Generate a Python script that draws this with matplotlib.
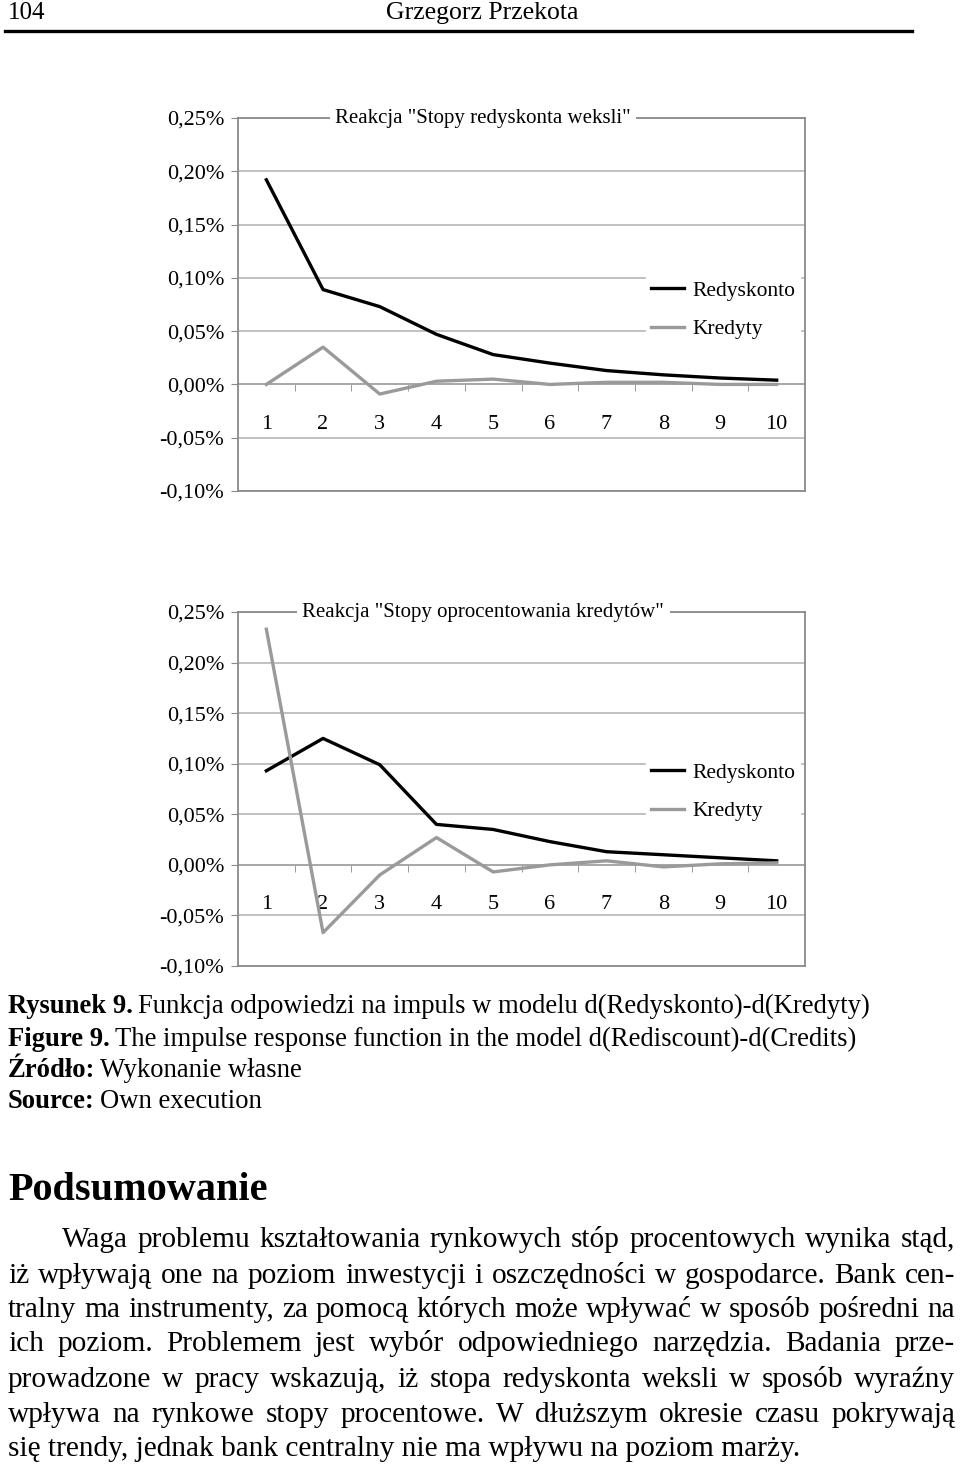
import matplotlib
matplotlib.use('Agg')
import matplotlib.pyplot as plt
from matplotlib.ticker import FuncFormatter
import numpy as np

plt.rcParams['font.family'] = ['Liberation Serif', 'DejaVu Serif']

# dane (w %)
okresy = np.arange(1, 11)

redyskonto_1 = [0.192, 0.089, 0.073, 0.047, 0.028, 0.020, 0.013, 0.009, 0.006, 0.004]
kredyty_1 = [0.000, 0.035, -0.009, 0.003, 0.005, 0.000, 0.002, 0.002, 0.000, 0.000]

redyskonto_2 = [0.093, 0.125, 0.099, 0.040, 0.035, 0.023, 0.013, 0.010, 0.007, 0.004]
kredyty_2 = [0.233, -0.067, -0.010, 0.027, -0.007, 0.000, 0.004, -0.002, 0.001, 0.002]

tytuly = ['Reakcja "Stopy redyskonta weksli"',
          'Reakcja "Stopy oprocentowania kredytów"']
etykiety = ['Redyskonto', 'Kredyty']
y_ticks = [-0.10, -0.05, 0.00, 0.05, 0.10, 0.15, 0.20, 0.25]

W, H = 960, 1468
fig = plt.figure(figsize=(W / 100, H / 100), dpi=100)


def fx(px):
    return px / W


def fy(py):
    return 1 - py / H


def proc(v, pos):
    if abs(v) < 1e-9:
        v = 0.0
    return f'{v:.2f}%'.replace('.', ',')


def wykres(top_px, bot_px, red, kre, tytul, leg_y):
    ax = fig.add_axes([fx(238), fy(bot_px), fx(805) - fx(238), fy(top_px) - fy(bot_px)])
    ax.plot(okresy, red, color='black', lw=2.4, label=etykiety[0], zorder=3)
    ax.plot(okresy, kre, color='#9a9a9a', lw=2.4, label=etykiety[1], zorder=3)
    ax.set_xlim(0.5, 10.5)
    ax.set_ylim(-0.10, 0.25)
    ax.set_yticks(y_ticks)
    ax.yaxis.set_major_formatter(FuncFormatter(proc))
    ax.set_xticks([])
    ax.yaxis.grid(True, color='#b0b0b0', lw=1.1)
    ax.set_axisbelow(True)
    for s in ax.spines.values():
        s.set_color('#8a8a8a')
        s.set_linewidth(1.3)
        s.set_zorder(6)
    ax.tick_params(axis='y', direction='out', length=5, color='#8a8a8a',
                   labelsize=16, pad=5)

    # os kategorii w punkcie zero
    sec = ax.secondary_xaxis(0.10 / 0.35)
    sec.spines['bottom'].set_color('#8a8a8a')
    sec.spines['bottom'].set_linewidth(1.3)
    sec.set_xticks(okresy)
    sec.set_xticks(okresy[:-1] + 0.5, minor=True)
    sec.tick_params(which='major', length=0, labelsize=16, pad=22)
    sec.tick_params(which='minor', direction='out', length=5, color='#8a8a8a')

    ax.legend(loc='center left', bbox_to_anchor=(0.70, leg_y), frameon=True,
              facecolor='white', edgecolor='white', framealpha=1, fancybox=False,
              handlelength=1.55, handletextpad=0.35, borderpad=0.25,
              labelspacing=0.85, fontsize=15.5)

    fig.text(fx(483), fy(top_px), tytul, ha='center', va='center', fontsize=15,
             bbox=dict(facecolor='white', edgecolor='none', pad=4))
    return ax


wykres(118, 491, redyskonto_1, kredyty_1, tytuly[0], 0.485)
wykres(612, 966, redyskonto_2, kredyty_2, tytuly[1], 0.492)

# naglowek strony
fig.text(fx(8), fy(13), '104', ha='left', va='center', fontsize=18)
fig.text(fx(482), fy(13), 'Grzegorz Przekota', ha='center', va='center', fontsize=18.5)
fig.add_artist(plt.Line2D([fx(5), fx(912)], [fy(31), fy(31)], color='black', lw=2.4))

renderer = fig.canvas.get_renderer()


def szer(t):
    return t.get_window_extent(renderer).width


# podpis rysunku
podpis = [('Rysunek 9.', 'Funkcja odpowiedzi na impuls w modelu d(Redyskonto)-d(Kredyty)', 1007),
          ('Figure 9.', 'The impulse response function in the model d(Rediscount)-d(Credits)', 1040),
          ('Źródło:', 'Wykonanie własne', 1071),
          ('Source:', 'Own execution', 1102)]
for b, n, y in podpis:
    t = fig.text(fx(8), fy(y + 6), b, ha='left', va='baseline', fontsize=19.2, fontweight='bold')
    x2 = 8 + szer(t) + 5
    fig.text(fx(x2), fy(y + 6), n, ha='left', va='baseline', fontsize=19.2)

fig.text(fx(8), fy(1190), 'Podsumowanie', ha='left', va='center', fontsize=29,
         fontweight='bold')

akapit = [
    ('Waga problemu kształtowania rynkowych stóp procentowych wynika stąd,', 62, 1240, True),
    ('iż wpływają one na poziom inwestycji i oszczędności w gospodarce. Bank cen-', 8, 1276, True),
    ('tralny ma instrumenty, za pomocą których może wpływać w sposób pośredni na', 8, 1310, True),
    ('ich poziom. Problemem jest wybór odpowiedniego narzędzia. Badania prze-', 8, 1344, True),
    ('prowadzone w pracy wskazują, iż stopa redyskonta weksli w sposób wyraźny', 8, 1380, True),
    ('wpływa na rynkowe stopy procentowe. W dłuższym okresie czasu pokrywają', 8, 1415, True),
    ('się trendy, jednak bank centralny nie ma wpływu na poziom marży.', 8, 1449, False),
]
for tekst, x0, y, just in akapit:
    yb = fy(y + 7)
    if not just:
        fig.text(fx(x0), yb, tekst, ha='left', va='baseline', fontsize=21.2)
        continue
    slowa = tekst.split()
    arts = [fig.text(0, yb, s, ha='left', va='baseline', fontsize=21.2) for s in slowa]
    w = [szer(a) for a in arts]
    gap = (955 - x0 - sum(w)) / (len(slowa) - 1)
    x = x0
    for a, ww in zip(arts, w):
        a.set_x(fx(x))
        x += ww + gap

fig.savefig('out.png', dpi=100, facecolor='white')
